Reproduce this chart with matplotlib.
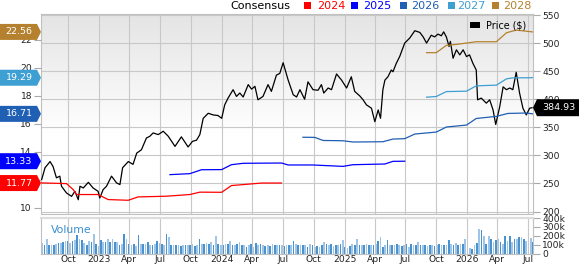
import matplotlib
matplotlib.use("Agg")
import matplotlib.pyplot as plt
import numpy as np
import pandas as pd
from matplotlib.patches import Polygon, Rectangle

# ---- data ----
price_dates = [
    "2022-07-14", "2022-07-24", "2022-08-08", "2022-08-17", "2022-08-27", "2022-09-06", "2022-09-11", "2022-09-26",
    "2022-10-11", "2022-10-21", "2022-10-31", "2022-11-05", "2022-11-15", "2022-11-30", "2022-12-14", "2022-12-29",
    "2023-01-03", "2023-01-13", "2023-01-23", "2023-02-07", "2023-02-22", "2023-03-04", "2023-03-12", "2023-03-29",
    "2023-04-12", "2023-04-23", "2023-05-07", "2023-05-22", "2023-06-01", "2023-06-11", "2023-06-26", "2023-07-11",
    "2023-07-26", "2023-08-15", "2023-09-03", "2023-09-23", "2023-10-06", "2023-10-18", "2023-10-28", "2023-11-07",
    "2023-11-22", "2023-12-07", "2023-12-21", "2024-01-01", "2024-01-10", "2024-01-20", "2024-02-04", "2024-02-14",
    "2024-02-24", "2024-03-05", "2024-03-20", "2024-03-30", "2024-04-09", "2024-04-18", "2024-05-03", "2024-05-18",
    "2024-05-28", "2024-06-12", "2024-06-22", "2024-07-02", "2024-07-17", "2024-08-01", "2024-08-11", "2024-08-21",
    "2024-09-04", "2024-09-14", "2024-09-29", "2024-10-14", "2024-10-24", "2024-10-31", "2024-11-13", "2024-11-23",
    "2024-12-08", "2024-12-23", "2025-01-07", "2025-01-21", "2025-01-31", "2025-02-15", "2025-02-25", "2025-03-07",
    "2025-03-22", "2025-04-01", "2025-04-11", "2025-04-18", "2025-04-25", "2025-05-01", "2025-05-10", "2025-05-20",
    "2025-05-25", "2025-06-04", "2025-06-14", "2025-06-29", "2025-07-14", "2025-07-29", "2025-08-13", "2025-08-23",
    "2025-09-02", "2025-09-11", "2025-09-16", "2025-09-26", "2025-10-06", "2025-10-16", "2025-10-23", "2025-10-31",
    "2025-11-08", "2025-11-12", "2025-11-20", "2025-11-30", "2025-12-10", "2025-12-20", "2025-12-30", "2026-01-08",
    "2026-01-18", "2026-01-28", "2026-02-01", "2026-02-12", "2026-02-27", "2026-03-09", "2026-03-19", "2026-03-27",
    "2026-04-08", "2026-04-18", "2026-04-28", "2026-05-08", "2026-05-17", "2026-05-27", "2026-06-06", "2026-06-16",
    "2026-06-26", "2026-07-06", "2026-07-13"]
price_vals = [
    257, 278, 289, 280, 260, 263, 245, 233,
    227, 236, 221, 245, 242, 252, 242, 236,
    224, 239, 245, 263, 251, 248, 278, 289,
    284, 304, 310, 331, 334, 340, 337, 343,
    334, 316, 333, 315, 325, 327, 337, 366,
    375, 372, 371, 366, 390, 402, 417, 405,
    411, 404, 426, 418, 423, 399, 405, 426,
    414, 443, 446, 465, 434, 408, 404, 417,
    400, 431, 417, 416, 426, 411, 420, 417,
    445, 434, 420, 440, 414, 406, 399, 390,
    384, 360, 381, 366, 417, 434, 440, 452,
    449, 464, 476, 500, 509, 522, 519, 511,
    500, 509, 514, 511, 516, 513, 520, 511,
    494, 503, 473, 488, 479, 488, 476, 479,
    464, 452, 399, 402, 393, 399, 381, 355,
    387, 422, 417, 420, 417, 448, 411, 384,
    372, 384, 384.93]

c2024_dates = ["2022-07-12", "2022-09-26", "2022-10-16", "2022-10-26", "2022-12-29", "2023-01-28", "2023-03-29",
               "2023-04-27", "2023-07-21", "2023-09-28", "2023-10-28", "2024-01-01", "2024-01-30", "2024-03-30",
               "2024-04-29", "2024-06-27"]
c2024_vals = [11.78, 11.73, 11.30, 10.95, 10.95, 10.59, 10.54, 10.78, 10.83, 10.95, 11.12, 11.11, 11.59, 11.71,
              11.77, 11.77]
c2025_dates = ["2023-07-31", "2023-09-28", "2023-11-02", "2024-01-01", "2024-01-30", "2024-03-05", "2024-06-27",
               "2024-07-17", "2024-09-29", "2024-12-27", "2025-01-26", "2025-05-01", "2025-05-25", "2025-06-29"]
c2025_vals = [12.37, 12.44, 12.72, 12.73, 13.08, 13.18, 13.20, 13.06, 13.06, 12.96, 13.08, 13.13, 13.32, 13.33]
c2026_dates = ["2024-08-30", "2024-10-04", "2024-10-29", "2024-12-27", "2025-01-26", "2025-04-25", "2025-05-25",
               "2025-06-29", "2025-07-29", "2025-10-01", "2025-10-31", "2025-12-30", "2026-01-28", "2026-03-29",
               "2026-05-02", "2026-06-26", "2026-07-15"]
c2026_vals = [15.04, 15.03, 14.81, 14.79, 14.70, 14.72, 14.91, 14.94, 15.27, 15.41, 15.77, 15.91, 16.38, 16.53,
              16.74, 16.77, 16.71]
c2027_dates = ["2025-09-02", "2025-10-01", "2025-10-31", "2025-12-30", "2026-01-28", "2026-03-29", "2026-04-28",
               "2026-05-17", "2026-07-15"]
c2027_vals = [17.90, 17.95, 18.30, 18.33, 18.71, 18.76, 19.21, 19.28, 19.29]
c2028_dates = ["2025-09-02", "2025-10-01", "2025-10-31", "2025-11-30", "2026-01-28", "2026-03-29", "2026-04-28",
               "2026-05-27", "2026-07-15"]
c2028_vals = [21.08, 21.08, 21.60, 21.67, 21.86, 21.86, 22.50, 22.69, 22.56]

# weekly volume, thousands of shares
vol_start = "2022-07-15"
vol_k = [
    120, 100, 168, 95, 100, 95, 105, 115, 120, 130,
    138, 138, 120, 145, 150, 206, 160, 150, 120, 95,
    140, 130, 224, 110, 80, 150, 125, 130, 165, 135,
    165, 125, 130, 100, 112, 224, 165, 110, 100, 110,
    85, 206, 110, 112, 112, 130, 93, 101, 112, 138,
    120, 112, 95, 224, 187, 101, 101, 101, 93, 88,
    101, 101, 101, 101, 112, 80, 101, 168, 112, 112,
    120, 112, 131, 101, 198, 112, 93, 101, 112, 112,
    140, 101, 101, 112, 131, 101, 93, 75, 101, 112,
    75, 120, 93, 112, 101, 88, 93, 82, 112, 101,
    93, 101, 101, 82, 93, 101, 93, 138, 112, 93,
    101, 93, 101, 75, 112, 93, 75, 82, 75, 101,
    131, 112, 101, 112, 82, 101, 93, 112, 150, 75,
    64, 82, 112, 101, 168, 101, 93, 101, 112, 101,
    93, 101, 112, 138, 187, 75, 93, 150, 101, 93,
    101, 112, 93, 82, 101, 112, 75, 112, 101, 93,
    131, 93, 101, 101, 82, 101, 101, 82, 93, 112,
    101, 93, 101, 150, 112, 101, 123, 93, 112, 112,
    161, 37, 64, 49, 101, 123, 273, 262, 198, 112,
    198, 168, 131, 150, 168, 131, 112, 198, 138, 198,
    131, 168, 168, 187, 187, 161, 140, 363, 176, 131]

quarter_ticks = ["2022-10-01", "2023-01-01", "2023-04-01", "2023-07-01", "2023-10-01", "2024-01-01", "2024-04-01",
                 "2024-07-01", "2024-10-01", "2025-01-01", "2025-04-01", "2025-07-01", "2025-10-01", "2026-01-01",
                 "2026-04-01", "2026-07-01"]
quarter_labels = ["Oct", "2023", "Apr", "Jul", "Oct", "2024", "Apr", "Jul", "Oct", "2025", "Apr", "Jul", "Oct",
                  "2026", "Apr", "Jul"]

series = [("2024", c2024_dates, c2024_vals, "#ff0000"),
          ("2025", c2025_dates, c2025_vals, "#0000ff"),
          ("2026", c2026_dates, c2026_vals, "#1f5fb4"),
          ("2027", c2027_dates, c2027_vals, "#3d9fd2"),
          ("2028", c2028_dates, c2028_vals, "#b5812f")]

# ---- layout (pixels, origin top-left) ----
W, H = 579, 266
fig = plt.figure(figsize=(W / 100, H / 100), dpi=100)


def box(x0, y0, x1, y1):
    return [x0 / W, 1 - y1 / H, (x1 - x0) / W, (y1 - y0) / H]


def fx(x):
    return x / W


def fy(y):
    return 1 - y / H


grid_c = "#c8c8c8"
tick_kw = dict(labelsize=6.6, colors="#aaaaaa", labelcolor="#222222", width=0.8)

ax_bg = fig.add_axes(box(41, 14, 533, 214), zorder=-1)
g = np.linspace(1, 0, 200)
lvl = np.where(g > 0.4, 1 - (g - 0.4) / 0.6 * 0.105, 1.0)
ax_bg.imshow(np.dstack([lvl, lvl, lvl]).reshape(200, 1, 3), aspect="auto", extent=[0, 1, 0, 1])
ax_bg.axis("off")

ax_p = fig.add_axes(box(41, 14, 533, 214))
ax_p.patch.set_visible(False)
ax_v = fig.add_axes(box(41, 218, 533, 254), sharex=ax_p)
ax_e = ax_p.twinx()

xmin, xmax = pd.Timestamp("2022-07-12"), pd.Timestamp("2026-07-16")

# price
ax_p.plot(pd.to_datetime(price_dates), price_vals, color="black", lw=0.9, zorder=3)
ax_p.set_ylim(195.6, 551.8)
ax_p.set_yticks(range(200, 551, 50))
ax_p.yaxis.tick_right()
ax_p.tick_params(axis="y", length=5, pad=1.5, **tick_kw)
ax_p.tick_params(axis="x", length=0, labelbottom=False)
ax_p.set_xticks(pd.to_datetime(quarter_ticks))
ax_p.grid(True, color=grid_c, lw=0.8)
for s in ax_p.spines.values():
    s.set_color("#c0c0c0")
    s.set_linewidth(0.8)

# consensus
for name, d, v, c in series:
    ax_e.plot(pd.to_datetime(d), v, color=c, lw=0.9)
ax_e.set_ylim(9.56, 23.84)
ax_e.set_yticks(range(10, 23, 2))
ax_e.yaxis.tick_left()
ax_e.tick_params(axis="y", length=5, pad=1.5, **tick_kw)
for s in ax_e.spines.values():
    s.set_visible(False)

# volume
vdates = pd.date_range(vol_start, periods=len(vol_k), freq="7D")
vcols = ["#9fc5e8" if i % 2 == 0 else "#4a92ce" for i in range(len(vol_k))]
ax_v.bar(vdates, vol_k, width=5.0, color=vcols, linewidth=0)
ax_v.set_ylim(-5.6, 400)
ax_v.set_yticks([0, 100, 200, 300, 400])
ax_v.set_yticklabels(["0", "100k", "200k", "300k", "400k"])
ax_v.yaxis.tick_right()
ax_v.tick_params(axis="y", length=5, pad=1.5, **tick_kw)
ax_v.tick_params(axis="x", length=0, pad=0.8, **tick_kw)
ax_v.set_xticks(pd.to_datetime(quarter_ticks))
ax_v.set_xticklabels(quarter_labels)
ax_v.grid(True, axis="x", color=grid_c, lw=0.8)
ax_v.set_xlim(xmin, xmax)
for s in ax_v.spines.values():
    s.set_color("#c0c0c0")
    s.set_linewidth(0.8)
ax_v.spines["top"].set_color("#dddddd")
ax_v.spines["top"].set_linewidth(1.6)

# header legend
fig.text(fx(230.7), fy(9.4), "Consensus", fontsize=8, color="black", va="baseline")
legend_pos = [(304, 316.7), (350.7, 363), (400, 410.7), (448, 457), (492, 503)]
for (name, d, v, c), (sx, tx) in zip(series, legend_pos):
    fig.patches.append(Rectangle((fx(sx), fy(9)), 7 / W, 7 / H, transform=fig.transFigure,
                                 facecolor=c, edgecolor="none"))
    fig.text(fx(tx), fy(9.4), name, fontsize=8, color=c, va="baseline")

# price legend
fig.patches.append(Rectangle((fx(470), fy(28)), 10 / W, 6 / H, transform=fig.transFigure,
                             facecolor="black", edgecolor="none", zorder=5))
fig.text(fx(485.5), fy(25), "Price ($)", fontsize=6.9, color="black", va="center", zorder=6)

fig.text(fx(51), fy(232.7), "Volume", fontsize=7.8, color="#3a8fd0", va="baseline")

# value badges
for name, d, v, c in series:
    last = v[-1]
    yd = ax_e.transData.transform((0, last))[1]
    pts = [(0, yd - 8), (37, yd - 8), (41, yd), (37, yd + 8), (0, yd + 8)]
    fig.patches.append(Polygon([(x / W, y / H) for x, y in pts], closed=True, transform=fig.transFigure,
                               facecolor=c, edgecolor="none", zorder=5))
    fig.text(19 / W, yd / H, f"{last:.2f}", fontsize=6.8, color="white", ha="center", va="center", zorder=6)

last_p = price_vals[-1]
yd = ax_p.transData.transform((0, last_p))[1]
pts = [(533, yd), (537, yd + 8.5), (579, yd + 8.5), (579, yd - 8.5), (537, yd - 8.5)]
fig.patches.append(Polygon([(x / W, y / H) for x, y in pts], closed=True, transform=fig.transFigure,
                           facecolor="black", edgecolor="none", zorder=5))
fig.text(558.5 / W, yd / H, f"{last_p:.2f}", fontsize=6.8, color="white", ha="center", va="center", zorder=6)

fig.savefig("out.png", dpi=100)
